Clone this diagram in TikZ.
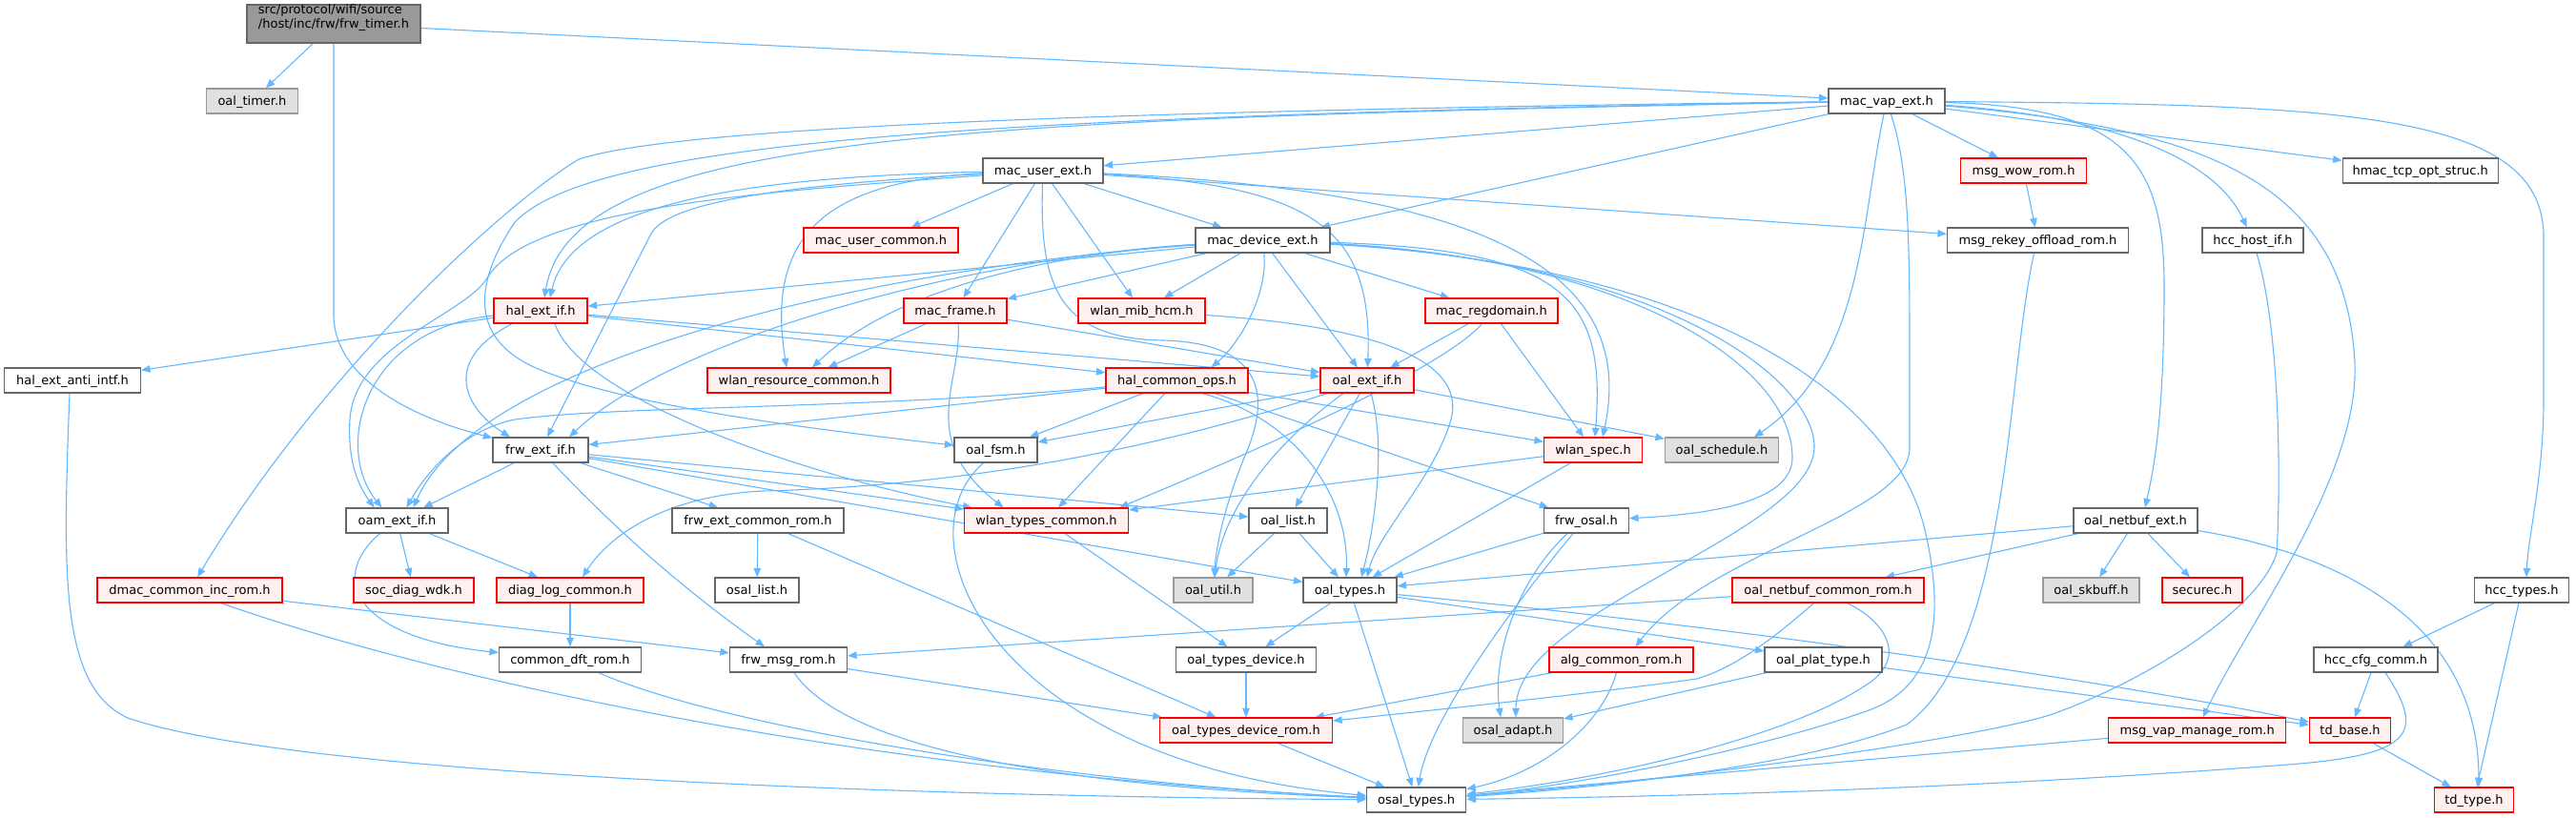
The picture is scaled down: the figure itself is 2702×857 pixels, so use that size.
\documentclass[tikz,border=0pt]{standalone}
\usepackage{fontspec}
\newfontfamily\nodefont{DejaVu Sans}
\usetikzlibrary{arrows.meta}
\pgfdeclarelayer{bg}
\pgfsetlayers{bg,main}
\definecolor{eblue}{HTML}{63B8FF}
\definecolor{wborder}{HTML}{666666}
\definecolor{redfill}{HTML}{FFF0F0}
\definecolor{grayfill}{HTML}{E0E0E0}
\definecolor{grayborder}{HTML}{999999}
\definecolor{rootfill}{HTML}{999999}
\tikzset{
  wbox/.style={draw=wborder, fill=white, line width=1.2pt, minimum height=26pt, inner sep=0pt,
    text height=10pt, text depth=2pt, font={\nodefont\fontsize{13pt}{15pt}\selectfont}},
  rbox/.style={wbox, draw=red, fill=redfill},
  gbox/.style={wbox, draw=grayborder, fill=grayfill},
  rootbox/.style={wbox, fill=rootfill, minimum height=40pt, align=left},
  edg/.style={draw=eblue, line width=1.1pt, -{Triangle[length=9.5pt,width=7.5pt]}},
}
\begin{document}
\begin{tikzpicture}[x=1pt,y=-1pt]
\useasboundingbox (0,0) rectangle (2702,857);
% nodes
\node[rootbox, minimum width=182pt] (root) at (350,25) {src/protocol/wifi/source\\/host/inc/frw/frw\_timer.h};
\node[gbox, minimum width=96pt] (otimer) at (264.5,106) {oal\_timer.h};
\node[wbox, minimum width=122pt] (vap) at (1979,106) {mac\_vap\_ext.h};
\node[wbox, minimum width=126pt] (user) at (1094,179) {mac\_user\_ext.h};
\node[rbox, minimum width=132pt] (wow) at (2122.6,179) {msg\_wow\_rom.h};
\node[wbox, minimum width=163pt] (hmac) at (2538.7,179) {hmac\_tcp\_opt\_struc.h};
\node[rbox, minimum width=162pt] (ucommon) at (924,252) {mac\_user\_common.h};
\node[wbox, minimum width=141pt] (dev) at (1324.5,252) {mac\_device\_ext.h};
\node[wbox, minimum width=190pt] (rekey) at (2137.5,252) {msg\_rekey\_offload\_rom.h};
\node[wbox, minimum width=106pt] (hcchost) at (2363,252) {hcc\_host\_if.h};
\node[rbox, minimum width=98pt] (hal) at (567,326) {hal\_ext\_if.h};
\node[rbox, minimum width=108pt] (frame) at (1002,326) {mac\_frame.h};
\node[rbox, minimum width=133pt] (mib) at (1197.5,326) {wlan\_mib\_hcm.h};
\node[rbox, minimum width=139pt] (regdom) at (1564.5,326) {mac\_regdomain.h};
\node[wbox, minimum width=143pt] (anti) at (76,399) {hal\_ext\_anti\_intf.h};
\node[rbox, minimum width=192pt] (wres) at (838,399) {wlan\_resource\_common.h};
\node[rbox, minimum width=149pt] (hops) at (1234.5,399) {hal\_common\_ops.h};
\node[rbox, minimum width=98pt] (oalext) at (1434,399) {oal\_ext\_if.h};
\node[wbox, minimum width=100pt] (frw) at (567,472) {frw\_ext\_if.h};
\node[wbox, minimum width=87pt] (fsm) at (1044.5,472) {oal\_fsm.h};
\node[rbox, minimum width=103pt] (spec) at (1671,472) {wlan\_spec.h};
\node[gbox, minimum width=119pt] (sched) at (1806,472) {oal\_schedule.h};
\node[wbox, minimum width=107pt] (oam) at (416.5,546) {oam\_ext\_if.h};
\node[wbox, minimum width=180pt] (fcrom) at (795,546) {frw\_ext\_common\_rom.h};
\node[rbox, minimum width=172pt] (wtypes) at (1097.5,546) {wlan\_types\_common.h};
\node[wbox, minimum width=82pt] (olist) at (1351,546) {oal\_list.h};
\node[wbox, minimum width=89pt] (fosal) at (1664,546) {frw\_osal.h};
\node[wbox, minimum width=130pt] (nbext) at (2240,546) {oal\_netbuf\_ext.h};
\node[rbox, minimum width=194pt] (dmac) at (199,619) {dmac\_common\_inc\_rom.h};
\node[rbox, minimum width=126pt] (socdiag) at (434,619) {soc\_diag\_wdk.h};
\node[rbox, minimum width=154pt] (diag) at (598,619) {diag\_log\_common.h};
\node[wbox, minimum width=88pt] (oslist) at (794,619) {osal\_list.h};
\node[gbox, minimum width=83pt] (util) at (1272.5,619) {oal\_util.h};
\node[wbox, minimum width=98pt] (otypes) at (1416,619) {oal\_types.h};
\node[rbox, minimum width=201pt] (nbcrom) at (1917.5,619) {oal\_netbuf\_common\_rom.h};
\node[gbox, minimum width=101pt] (skbuff) at (2193.5,619) {oal\_skbuff.h};
\node[rbox, minimum width=84pt] (securec) at (2310,619) {securec.h};
\node[wbox, minimum width=99pt] (hcctypes) at (2645,619) {hcc\_types.h};
\node[wbox, minimum width=149pt] (dft) at (598,692) {common\_dft\_rom.h};
\node[wbox, minimum width=123pt] (msgrom) at (827,692) {frw\_msg\_rom.h};
\node[wbox, minimum width=147pt] (otdev) at (1307,692) {oal\_types\_device.h};
\node[rbox, minimum width=151pt] (algrom) at (1700.5,692) {alg\_common\_rom.h};
\node[wbox, minimum width=123pt] (plat) at (1912.5,692) {oal\_plat\_type.h};
\node[wbox, minimum width=130pt] (hcccfg) at (2492,692) {hcc\_cfg\_comm.h};
\node[rbox, minimum width=181pt] (otdrom) at (1307,766) {oal\_types\_device\_rom.h};
\node[gbox, minimum width=105pt] (adapt) at (1587,766) {osal\_adapt.h};
\node[rbox, minimum width=186pt] (vapmng) at (2304.7,766) {msg\_vap\_manage\_rom.h};
\node[rbox, minimum width=85pt] (tdbase) at (2465,766) {td\_base.h};
\node[wbox, minimum width=104pt] (ostypes) at (1485.7,839) {osal\_types.h};
\node[rbox, minimum width=83pt] (tdtype) at (2595,839) {td\_type.h};
\begin{pgfonlayer}{bg}
\fill[white] (0,0) rectangle (2702,857);
% root
\draw[edg] (root) -- (otimer);
\draw[edg] (root.south) -- (350,330) .. controls (350,400) and (440,440) .. (frw);
\draw[edg] (root) -- (vap);
% vap
\draw[edg] (vap) -- (user);
\draw[edg] (vap) -- (dev);
\draw[edg] (vap) .. controls (1000,125) and (600,140) .. ([xshift=4pt]hal.north);
\draw[edg] (vap) .. controls (1000,118) and (690,140) .. (607,167) .. controls (520,220) and (330,400) .. (dmac);
\draw[edg] (vap) .. controls (1000,122) and (620,150) .. (540,233) .. controls (495,300) and (495,355) .. (560,385) .. controls (650,425) and (850,450) .. (fsm);
\draw[edg] (vap) .. controls (1952,230) and (1955,380) .. ([xshift=34pt]sched.north);
\draw[edg] (vap) .. controls (2003,180) and (2003,260) .. (2003,380) -- (2003,470) .. controls (2003,540) and (1790,580) .. ([xshift=15pt]algrom.north);
\draw[edg] (vap) -- (wow);
\draw[edg] (vap) -- (hmac);
\draw[edg] (vap) .. controls (2250,125) and (2330,180) .. (hcchost);
\draw[edg] (vap) .. controls (2230,112) and (2270,170) .. (2270,300) .. controls (2270,420) and (2262,480) .. ([xshift=10pt]nbext.north);
\draw[edg] (vap) .. controls (2330,135) and (2460,200) .. (2470,380) .. controls (2475,500) and (2360,650) .. ([xshift=6pt]vapmng.north);
\draw[edg] (vap) .. controls (2450,110) and (2670,115) .. (2668,250) -- (2668,420) .. controls (2668,500) and (2652,560) .. ([xshift=5pt]hcctypes.north);
% user
\draw[edg] (user) -- (ucommon);
\draw[edg] (user) -- (frame);
\draw[edg] (user) -- (mib);
\draw[edg] (user) -- (dev);
\draw[edg] (user) -- (rekey);
\draw[edg] (user) .. controls (800,185) and (600,210) .. ([xshift=10pt]hal.north);
\draw[edg] (user) .. controls (800,195) and (700,215) .. (683,245) -- ([xshift=7pt]frw.north);
\draw[edg] (user) .. controls (850,190) and (805,260) .. ([xshift=-13pt]wres.north);
\draw[edg] (user) .. controls (1380,195) and (1440,240) .. (oalext);
\draw[edg] (user) .. controls (1550,200) and (1720,280) .. ([xshift=10pt]spec.north);
\draw[edg] (user) .. controls (1090,300) and (1110,355) .. (1220,357) .. controls (1330,360) and (1332,420) .. (1305,480) .. controls (1285,530) and (1276,570) .. (util);
\draw[edg] (user) .. controls (820,200) and (560,215) .. (512,290) .. controls (490,330) and (372,360) .. (367,440) .. controls (364,490) and (380,515) .. ([xshift=-24pt]oam.north);
% dev
\draw[edg] (dev) -- (hal);
\draw[edg] (dev) -- (frame);
\draw[edg] (dev) -- (mib);
\draw[edg] (dev) -- (regdom);
\draw[edg] (dev) -- (oalext);
\draw[edg] (dev) .. controls (1330,310) and (1300,360) .. ([xshift=36pt]hops.north);
\draw[edg] (dev) .. controls (1050,270) and (920,320) .. ([xshift=14pt]wres.north);
\draw[edg] (dev) .. controls (1000,272) and (700,360) .. ([xshift=30pt]frw.north);
\draw[edg] (dev) .. controls (900,282) and (500,380) .. ([xshift=17pt]oam.north);
\draw[edg] (dev) .. controls (1640,262) and (1685,310) .. ([xshift=2pt]spec.north);
\draw[edg] (dev) .. controls (1700,270) and (1880,380) .. (1880,480) .. controls (1880,530) and (1780,540) .. (fosal);
\draw[edg] (dev) .. controls (1750,275) and (1905,400) .. (1903,470) .. controls (1900,560) and (1590,640) .. ([xshift=3pt]adapt.north);
\draw[edg] (dev) .. controls (1800,280) and (1990,420) .. (2020,560) .. controls (2040,650) and (2030,720) .. (1960,745) .. controls (1850,785) and (1650,825) .. (ostypes);
% hal
\draw[edg] (hal) -- (anti);
\draw[edg] ([xshift=-30pt]hal.south) .. controls (460,380) and (490,430) .. ([xshift=-32pt]frw.north);
\draw[edg] (hal) .. controls (380,345) and (350,470) .. ([xshift=-16pt]oam.north);
\draw[edg] (hal) -- (hops);
\draw[edg] (hal) -- (oalext);
\draw[edg] ([xshift=15pt]hal.south) .. controls (610,420) and (850,500) .. ([xshift=-78pt]wtypes.north);
% frame
\draw[edg] (frame) -- (wres);
\draw[edg] (frame) -- (oalext);
\draw[edg] ([xshift=3pt]frame.south) .. controls (1010,400) and (960,460) .. ([xshift=-45pt]wtypes.north);
% mib
\draw[edg] (mib) .. controls (1480,345) and (1535,390) .. (1522,440) .. controls (1505,500) and (1445,560) .. ([xshift=18pt]otypes.north);
% regdom
\draw[edg] (regdom) -- (oalext);
\draw[edg] (regdom) -- (spec);
\draw[edg] ([xshift=-10pt]regdom.south) .. controls (1510,390) and (1300,480) .. ([xshift=-10pt]wtypes.north east);
% hops
\draw[edg] (hops) -- (frw);
\draw[edg] (hops) -- (fsm);
\draw[edg] (hops) -- (wtypes);
\draw[edg] (hops) -- (spec);
\draw[edg] (hops) -- (fosal);
\draw[edg] ([xshift=27pt]hops.south) .. controls (1360,440) and (1415,520) .. ([xshift=-4pt]otypes.north);
\draw[edg] (hops) .. controls (900,430) and (650,425) .. (540,440) .. controls (490,450) and (450,490) .. ([xshift=10pt]oam.north);
% oalext
\draw[edg] (oalext) -- (fsm);
\draw[edg] (oalext) -- (sched);
\draw[edg] (oalext) -- (olist);
\draw[edg] ([xshift=4pt]oalext.south) .. controls (1455,470) and (1440,560) .. ([xshift=12pt]otypes.north);
\draw[edg] ([xshift=-25pt]oalext.south) .. controls (1330,470) and (1282,540) .. (util);
\draw[edg] (oalext) .. controls (1200,475) and (1000,510) .. (800,515) .. controls (700,520) and (640,560) .. ([xshift=13pt]diag.north);
% spec
\draw[edg] (spec) -- (otypes);
\draw[edg] (spec) -- (wtypes);
% fsm
\draw[edg] ([xshift=-13pt]fsm.south) .. controls (940,565) and (1040,800) .. (ostypes);
% frw
\draw[edg] (frw) -- (oam);
\draw[edg] (frw) -- (fcrom);
\draw[edg] (frw) .. controls (650,560) and (720,620) .. ([xshift=-25pt]msgrom.north);
\draw[edg] (frw) -- (wtypes);
\draw[edg] (frw) -- (olist);
\draw[edg] (frw) -- (otypes);
% oam
\draw[edg] (oam) -- (socdiag);
\draw[edg] (oam) -- (diag);
\draw[edg] ([xshift=-18pt]oam.south) .. controls (340,610) and (380,670) .. (dft);
% others
\draw[edg] (fcrom) -- (oslist);
\draw[edg] (fcrom) -- (otdrom);
\draw[edg] (wtypes) -- (otdev);
\draw[edg] (olist) -- (util);
\draw[edg] (olist) -- (otypes);
\draw[edg] (fosal) -- (otypes);
\draw[edg] ([xshift=-20pt]fosal.south) .. controls (1590,610) and (1565,690) .. ([xshift=-13pt]adapt.north);
\draw[edg] ([xshift=-14pt]fosal.south) .. controls (1600,620) and (1500,750) .. ([xshift=2pt]ostypes.north);
\draw[edg] (nbext) -- (otypes);
\draw[edg] (nbext) -- (nbcrom);
\draw[edg] (nbext) -- (skbuff);
\draw[edg] (nbext) -- (securec);
\draw[edg] (nbext) .. controls (2450,580) and (2600,650) .. ([xshift=5pt]tdtype.north);
\draw[edg] (dmac) -- (msgrom);
\draw[edg] ([xshift=33pt]dmac.south) .. controls (450,710) and (900,810) .. (ostypes);
\draw[edg] (diag) -- (dft);
\draw[edg] ([xshift=30pt]dft.south) .. controls (750,760) and (1100,820) .. (ostypes);
\draw[edg] ([xshift=-3pt]anti.south) .. controls (66,600) and (62,720) .. (134,753) .. controls (300,810) and (900,835) .. (ostypes);
\draw[edg] (msgrom) -- (otdrom);
\draw[edg] ([xshift=6pt]msgrom.south) .. controls (870,760) and (1000,820) .. (ostypes);
\draw[edg] (otypes) -- (otdev);
\draw[edg] (otypes) -- (plat);
\draw[edg] (otypes) -- (ostypes);
\draw[edg] (otypes) .. controls (1800,655) and (2200,712) .. (tdbase);
\draw[edg] (nbcrom) -- (msgrom);
\draw[edg] ([xshift=-15pt]nbcrom.south) .. controls (1860,670) and (1820,700) .. (1780,712) .. controls (1650,730) and (1500,745) .. (otdrom);
\draw[edg] ([xshift=20pt]nbcrom.south) .. controls (1975,650) and (2005,690) .. (1955,720) .. controls (1880,770) and (1700,815) .. (ostypes);
\draw[edg] (algrom) -- (otdrom);
\draw[edg] ([xshift=-5pt]algrom.south) .. controls (1680,760) and (1620,810) .. (ostypes);
\draw[edg] (plat) -- (adapt);
\draw[edg] (plat) -- (tdbase);
\draw[edg] (otdev) -- (otdrom);
\draw[edg] (otdrom) -- (ostypes);
\draw[edg] (hcctypes) -- (hcccfg);
\draw[edg] (hcctypes) -- (tdtype);
\draw[edg] (hcccfg) -- (tdbase);
\draw[edg] ([xshift=10pt]hcccfg.south) .. controls (2545,770) and (2530,792) .. (2400,802) .. controls (2100,825) and (1800,835) .. (ostypes);
\draw[edg] (vapmng) -- (ostypes);
\draw[edg] (tdbase) -- (tdtype);
\draw[edg] (wow) -- (rekey);
\draw[edg] ([xshift=-4pt]rekey.south) .. controls (2104,400) and (2108,680) .. (2000,760) .. controls (1900,800) and (1700,825) .. (ostypes);
\draw[edg] ([xshift=4pt]hcchost.south) .. controls (2393,350) and (2392,520) .. (2388,580) .. controls (2370,640) and (2250,715) .. (2150,750) .. controls (2080,772) and (1800,815) .. (ostypes);
\end{pgfonlayer}
\end{tikzpicture}
\end{document}
